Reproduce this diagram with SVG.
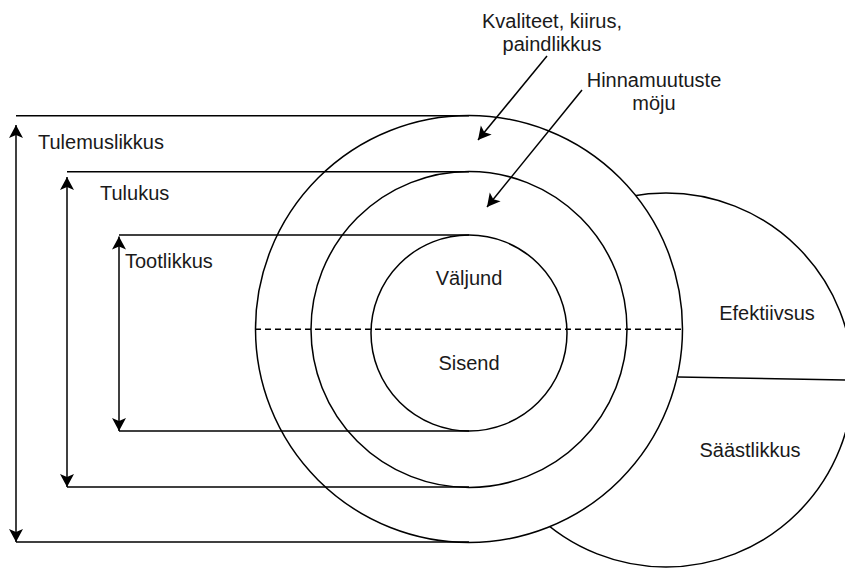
<svg xmlns="http://www.w3.org/2000/svg" width="845" height="568" viewBox="0 0 845 568">
<style>
.ln{stroke:#000;stroke-width:1.5;fill:none}
.ci{stroke:#000;stroke-width:1.5;fill:#fff}
.t{font-family:"Liberation Sans",Arial,sans-serif;font-size:20px;fill:#1a1a1a}
.m{text-anchor:middle}
</style>
<defs>
<marker id="ah" markerUnits="userSpaceOnUse" markerWidth="16" markerHeight="16" refX="14" refY="8" orient="auto-start-reverse" viewBox="0 0 16 16">
<path d="M14,8 L1,1 L4,8 L1,15 Z" fill="#000"/>
</marker>
</defs>
<rect width="845" height="568" fill="#fff"/>
<g id="saastlikkus-efektiivsus">
<circle class="ci" cx="666" cy="380" r="187"/>
</g>
<g id="tulemuslikkus-ring">
<circle class="ci" cx="469" cy="329" r="213.5"/>
</g>
<g id="tulukus-ring">
<circle class="ci" cx="469" cy="329.5" r="158"/>
</g>
<g id="tootlikkus-ring">
<circle class="ci" cx="469" cy="333" r="98"/>
</g>
<g id="connectors">
<line class="ln" x1="678" y1="377" x2="850" y2="380"/>
<line class="ln" x1="255" y1="329.3" x2="683" y2="329.3" stroke-dasharray="6 4"/>
<line class="ln" x1="16" y1="115.7" x2="469" y2="115.7"/>
<line class="ln" x1="16" y1="542" x2="469" y2="542"/>
<line class="ln" x1="67" y1="171.7" x2="469" y2="171.7"/>
<line class="ln" x1="67" y1="487" x2="469" y2="487"/>
<line class="ln" x1="119" y1="235" x2="469" y2="235"/>
<line class="ln" x1="119" y1="431" x2="469" y2="431"/>
<line class="ln" x1="16" y1="125" x2="16" y2="542" marker-start="url(#ah)" marker-end="url(#ah)"/>
<line class="ln" x1="67" y1="177" x2="67" y2="487" marker-start="url(#ah)" marker-end="url(#ah)"/>
<line class="ln" x1="119" y1="236.5" x2="119" y2="431" marker-start="url(#ah)" marker-end="url(#ah)"/>
<line class="ln" x1="547" y1="56" x2="478" y2="140" marker-end="url(#ah)"/>
<line class="ln" x1="582" y1="90" x2="487" y2="207" marker-end="url(#ah)"/>
</g>
<g id="labels">
<text class="t m" x="552" y="28">Kvaliteet, kiirus,</text>
<text class="t m" x="552" y="51">paindlikkus</text>
<text class="t m" x="654" y="87">Hinnamuutuste</text>
<text class="t m" x="654" y="110">möju</text>
<text class="t" x="38" y="149">Tulemuslikkus</text>
<text class="t" x="100" y="200">Tulukus</text>
<text class="t" x="125" y="268">Tootlikkus</text>
<text class="t m" x="469" y="285">Väljund</text>
<text class="t m" x="469" y="370">Sisend</text>
<text class="t m" x="767" y="320">Efektiivsus</text>
<text class="t m" x="750" y="457">Säästlikkus</text>
</g>
</svg>
